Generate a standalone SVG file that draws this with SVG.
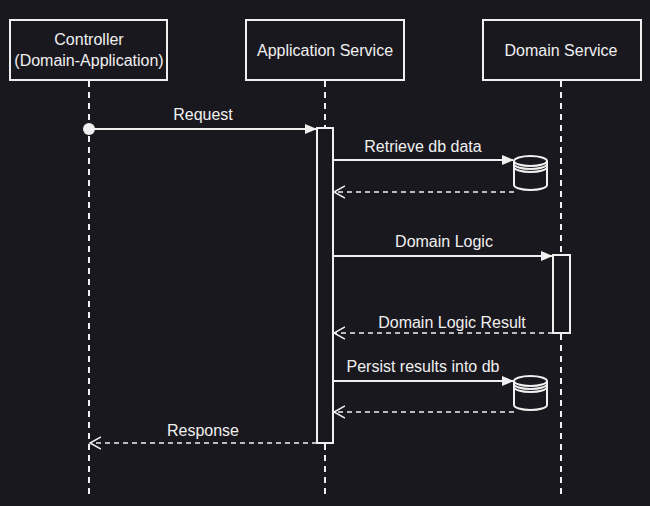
<svg xmlns="http://www.w3.org/2000/svg" width="650" height="506" viewBox="0 0 650 506">
<defs>
<style>
.box{fill:#1a181f;stroke:#f0f0f0;stroke-width:2}
.life{stroke:#f0f0f0;stroke-width:2;stroke-dasharray:6 5;fill:none}
.msg{stroke:#f0f0f0;stroke-width:2;fill:none}
.ret{stroke:#f0f0f0;stroke-width:1.5;stroke-dasharray:5 4;fill:none}
text{font-family:"Liberation Sans",Arial,sans-serif;font-size:16px;fill:#f0f0f0;text-anchor:middle}
</style>
<marker id="fa" markerWidth="12" markerHeight="10" refX="11" refY="5" orient="auto" markerUnits="userSpaceOnUse"><path d="M0,0 L12,5 L0,10 z" fill="#f0f0f0"/></marker>
<marker id="oa" markerWidth="13" markerHeight="14" refX="11" refY="7" orient="auto" markerUnits="userSpaceOnUse"><path d="M0,1 L11,7 L0,13" fill="none" stroke="#f0f0f0" stroke-width="1.5"/></marker>
</defs>
<rect width="650" height="506" fill="#1a181f"/>
<g id="lifelines">
<line class="life" x1="89" y1="81" x2="89" y2="495"/>
<line class="life" x1="325" y1="81" x2="325" y2="495"/>
<line class="life" x1="561" y1="81" x2="561" y2="495"/>
</g>
<g id="controller"><rect class="box" x="10" y="20" width="157" height="60"/><text x="89" y="45">Controller</text><text x="89" y="66">(Domain-Application)</text></g>
<g id="app"><rect class="box" x="246" y="20" width="158" height="60"/><text x="325" y="56">Application Service</text></g>
<g id="domain"><rect class="box" x="483" y="20" width="158" height="60"/><text x="561" y="56">Domain Service</text></g>
<g id="app-activation"><rect class="box" x="317" y="128" width="16" height="315"/></g>
<g id="domain-activation"><rect class="box" x="553" y="255" width="17" height="78"/></g>
<g id="db1"><path class="box" d="M514,161 v24 a16.5,5 0 0 0 33,0 v-24 a16.5,5 0 0 0 -33,0 a16.5,5 0 0 0 33,0 M514,164 a16.5,5 0 0 0 33,0 M514,167 a16.5,5 0 0 0 33,0"/></g>
<g id="db2"><path class="box" d="M514,381 v24 a16.5,5 0 0 0 33,0 v-24 a16.5,5 0 0 0 -33,0 a16.5,5 0 0 0 33,0 M514,384 a16.5,5 0 0 0 33,0 M514,387 a16.5,5 0 0 0 33,0"/></g>
<g id="connectors">
<circle cx="89" cy="129" r="6" fill="#f0f0f0"/>
<line class="msg" x1="89" y1="129" x2="316" y2="129" marker-end="url(#fa)"/>
<text x="203" y="120">Request</text>
<line class="msg" x1="333" y1="160" x2="513" y2="160" marker-end="url(#fa)"/>
<text x="423" y="152">Retrieve db data</text>
<line class="ret" x1="514" y1="192" x2="334" y2="192" marker-end="url(#oa)"/>
<line class="msg" x1="333" y1="256" x2="552" y2="256" marker-end="url(#fa)"/>
<text x="444" y="247">Domain Logic</text>
<line class="ret" x1="553" y1="333" x2="334" y2="333" marker-end="url(#oa)"/>
<text x="452" y="328">Domain Logic Result</text>
<line class="msg" x1="333" y1="381" x2="513" y2="381" marker-end="url(#fa)"/>
<text x="423" y="372">Persist results into db</text>
<line class="ret" x1="514" y1="412" x2="334" y2="412" marker-end="url(#oa)"/>
<line class="ret" x1="317" y1="443" x2="90" y2="443" marker-end="url(#oa)"/>
<text x="203" y="436">Response</text>
</g>
</svg>
